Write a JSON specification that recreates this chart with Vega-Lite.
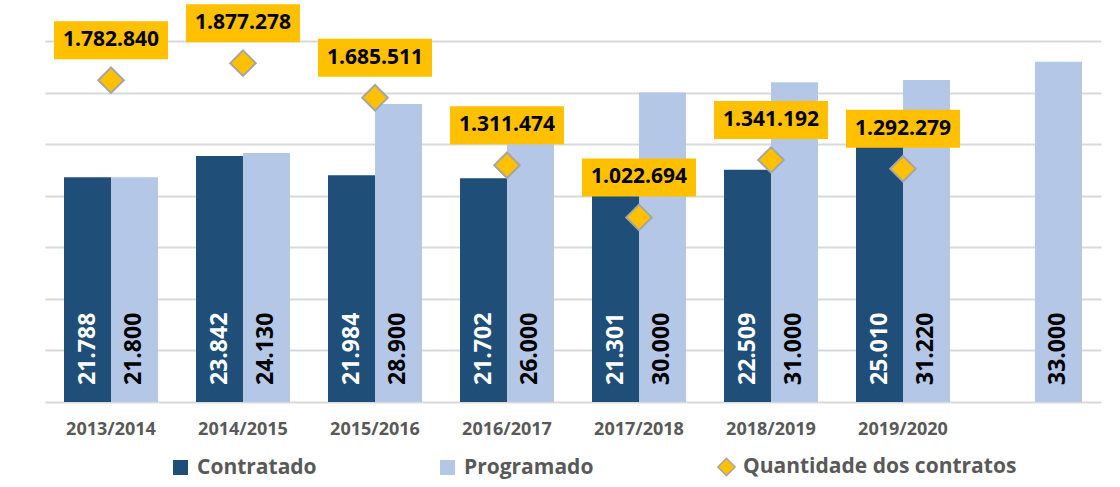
{
  "$schema": "https://vega.github.io/schema/vega-lite/v6.json",
  "width": 1056,
  "height": 361,
  "autosize": {"type": "none"},
  "padding": {"left": 45, "top": 41, "right": 19, "bottom": 85},
  "background": "white",
  "config": {
    "view": {"stroke": null},
    "font": "Open Sans",
    "locale": {"number": {"decimal": ",", "thousands": ".", "grouping": [3], "currency": ["R$", ""]}}
  },
  "data": {
    "values": [
      {"ano": "2013/2014", "serie": "Contratado", "valor": 21788},
      {"ano": "2013/2014", "serie": "Programado", "valor": 21800},
      {"ano": "2014/2015", "serie": "Contratado", "valor": 23842},
      {"ano": "2014/2015", "serie": "Programado", "valor": 24130},
      {"ano": "2015/2016", "serie": "Contratado", "valor": 21984},
      {"ano": "2015/2016", "serie": "Programado", "valor": 28900},
      {"ano": "2016/2017", "serie": "Contratado", "valor": 21702},
      {"ano": "2016/2017", "serie": "Programado", "valor": 26000},
      {"ano": "2017/2018", "serie": "Contratado", "valor": 21301},
      {"ano": "2017/2018", "serie": "Programado", "valor": 30000},
      {"ano": "2018/2019", "serie": "Contratado", "valor": 22509},
      {"ano": "2018/2019", "serie": "Programado", "valor": 31000},
      {"ano": "2019/2020", "serie": "Contratado", "valor": 25010},
      {"ano": "2019/2020", "serie": "Programado", "valor": 31220},
      {"ano": "2020/2021", "serie": "Programado", "valor": 33000},
      {"ano": "2013/2014", "serie": "Quantidade dos contratos", "valor": 1782840},
      {"ano": "2014/2015", "serie": "Quantidade dos contratos", "valor": 1877278},
      {"ano": "2015/2016", "serie": "Quantidade dos contratos", "valor": 1685511},
      {"ano": "2016/2017", "serie": "Quantidade dos contratos", "valor": 1311474},
      {"ano": "2017/2018", "serie": "Quantidade dos contratos", "valor": 1022694},
      {"ano": "2018/2019", "serie": "Quantidade dos contratos", "valor": 1341192},
      {"ano": "2019/2020", "serie": "Quantidade dos contratos", "valor": 1292279}
    ]
  },
  "encoding": {
    "x": {
      "field": "ano",
      "type": "nominal",
      "sort": null,
      "scale": {"paddingInner": 0.288, "paddingOuter": 0.144},
      "axis": {
        "title": null,
        "labelAngle": 0,
        "labelFont": "Open Sans",
        "labelFontSize": 18,
        "labelFontWeight": "bold",
        "labelColor": "#595959",
        "domain": false,
        "ticks": false,
        "tickSize": 0,
        "labelPadding": 18,
        "grid": false,
        "labelExpr": "datum.value === '2020/2021' ? '' : datum.value"
      }
    }
  },
  "layer": [
    {
      "transform": [{"filter": "datum.serie !== 'Quantidade dos contratos'"}],
      "encoding": {
        "y": {
          "field": "valor",
          "type": "quantitative",
          "scale": {"domain": [0, 35000], "nice": false},
          "axis": {
            "title": null,
            "labels": false,
            "ticks": false,
            "domain": false,
            "values": [0, 5000, 10000, 15000, 20000, 25000, 30000, 35000],
            "grid": true,
            "gridColor": "#D9D9D9",
            "gridWidth": 2
          }
        },
        "xOffset": {
          "field": "serie",
          "type": "nominal",
          "scale": {"domain": ["Contratado", "Programado"], "paddingInner": 0, "paddingOuter": 0}
        }
      },
      "layer": [
        {
          "mark": {"type": "bar"},
          "encoding": {
            "color": {
              "field": "serie",
              "type": "nominal",
              "scale": {
                "domain": ["Contratado", "Programado", "Quantidade dos contratos"],
                "range": ["#1F4E79", "#B4C7E7", "#FFC000"]
              },
              "legend": {
                "orient": "none",
                "legendX": 125,
                "legendY": 415,
                "direction": "horizontal",
                "title": null,
                "labelFont": "Open Sans",
                "labelFontSize": 21,
                "labelFontWeight": "bold",
                "labelColor": "#595959",
                "symbolSize": 225,
                "columnPadding": 120,
                "labelOffset": 6,
                "padding": 0,
                "labelLimit": 400,
                "symbolOpacity": 1,
                "encode": {
                  "symbols": {
                    "update": {
                      "stroke": {"signal": "datum.value === 'Quantidade dos contratos' ? '#A5A5A5' : 'transparent'"},
                      "strokeWidth": {"value": 1.5},
                      "size": {"signal": "datum.value === 'Quantidade dos contratos' ? 300 : 225"}
                    }
                  }
                }
              }
            }
          }
        },
        {
          "mark": {
            "type": "text",
            "angle": 270,
            "align": "left",
            "baseline": "middle",
            "dx": 17,
            "font": "Open Sans",
            "fontSize": 23,
            "fontWeight": "bold"
          },
          "encoding": {
            "y": {"datum": 0, "type": "quantitative"},
            "text": {"field": "valor", "type": "quantitative", "format": ","},
            "color": {
              "condition": {"test": "datum.serie === 'Contratado'", "value": "#FFFFFF"},
              "value": "#000000"
            }
          }
        }
      ]
    },
    {
      "transform": [{"filter": "datum.serie === 'Quantidade dos contratos'"}],
      "encoding": {
        "y": {
          "field": "valor",
          "type": "quantitative",
          "scale": {"domain": [0, 2000000], "nice": false},
          "axis": null
        }
      },
      "layer": [
        {
          "mark": {
            "type": "point",
            "filled": true,
            "size": 650,
            "stroke": "#A5A5A5",
            "strokeWidth": 2,
            "opacity": 1
          },
          "encoding": {
            "color": {
              "field": "serie",
              "type": "nominal",
              "scale": {
                "domain": ["Contratado", "Programado", "Quantidade dos contratos"],
                "range": ["#1F4E79", "#B4C7E7", "#FFC000"]
              }
            },
            "shape": {
              "field": "serie",
              "type": "nominal",
              "scale": {
                "domain": ["Contratado", "Programado", "Quantidade dos contratos"],
                "range": ["square", "square", "diamond"]
              }
            }
          }
        },
        {
          "mark": {
            "type": "point",
            "shape": "M-3,-1H3V1H-3Z",
            "size": 1444,
            "filled": true,
            "fill": "#FFC000",
            "strokeWidth": 0,
            "opacity": 1,
            "yOffset": -40
          },
          "encoding": {}
        },
        {
          "mark": {
            "type": "text",
            "align": "center",
            "baseline": "middle",
            "dy": -40,
            "font": "Open Sans",
            "fontSize": 21,
            "fontWeight": "bold",
            "color": "#000000"
          },
          "encoding": {
            "text": {"field": "valor", "type": "quantitative", "format": ","}
          }
        }
      ]
    }
  ],
  "resolve": {"scale": {"y": "independent"}}
}
